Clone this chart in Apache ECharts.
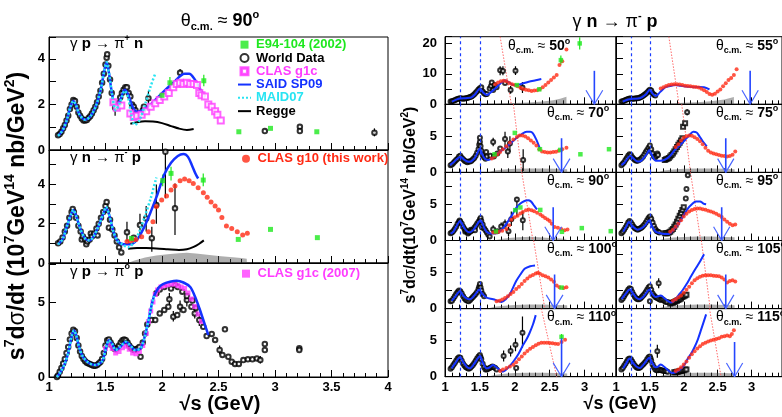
<!DOCTYPE html>
<html>
<head>
<meta charset="utf-8">
<script src="https://cdn.jsdelivr.net/npm/echarts@6/dist/echarts.min.js"></script>
<style>
html, body { margin: 0; background: #fff; }
#chart { width: 782px; height: 417px; }
</style>
</head>
<body>
<div id="chart"></div>
<script>
// ---------- left column, theta ~ 90 deg ----------
// gamma p -> pi+ n
const worldTop = [[1.08,0.65],[1.095,0.7],[1.11,0.8],[1.125,0.95],[1.14,1.1],[1.155,1.3],[1.17,1.5],[1.185,1.8],[1.20,2.0],[1.215,2.2],[1.23,2.15],[1.245,1.9],[1.26,1.65],[1.275,1.5],[1.29,1.38],[1.305,1.3],[1.32,1.3],[1.335,1.32],[1.35,1.4],[1.365,1.48],[1.38,1.6],[1.395,1.75],[1.41,1.9],[1.425,2.1],[1.44,2.35],[1.455,2.6],[1.47,2.95],[1.485,3.35],[1.50,3.75],[1.51,4.05],[1.515,4.2],[1.525,3.7],[1.54,3.1],[1.555,2.5],[1.57,2.1],[1.585,1.85],[1.60,1.9],[1.615,2.05],[1.63,2.3],[1.645,2.5],[1.66,2.65],[1.675,2.75],[1.69,2.75],[1.705,2.5],[1.72,2.35],[1.735,2.0],[1.75,1.9],[1.765,1.75],[1.78,1.53],[1.80,1.6],[1.83,1.75],[1.84,1.9],[1.88,2.27],[2.16,3.39],[2.91,0.83],[3.22,1.02],[3.22,0.83],[3.88,0.76]];
const worldTopErr = [[1.585,1.5,2.2],[1.88,1.95,2.6],[2.16,3.25,3.55],[3.88,0.6,0.95]];
const g1cTop = [[1.57,2.1],[1.60,1.85],[1.64,1.95],[1.72,1.6],[1.75,1.45],[1.78,1.5],[1.82,1.55],[1.86,1.7],[1.90,1.9],[1.94,2.05],[1.98,2.2],[2.02,2.35],[2.06,2.5],[2.10,2.75],[2.13,2.9],[2.16,2.95],[2.19,2.9],[2.22,2.95],[2.25,2.9],[2.28,2.9],[2.31,2.85],[2.33,2.5],[2.35,2.4],[2.38,2.35],[2.41,2.0],[2.44,1.9],[2.47,1.7],[2.49,1.55],[2.52,1.3]];
const e94Top = [[2.0,2.4],[2.07,2.95],[2.37,3.04],[2.68,0.80],[2.96,0.95],[3.37,0.80]];
const e94TopErr = [[2.07,2.7,3.2],[2.37,2.8,3.3]];
const saidTop = [[1.08,0.62],[1.10,0.72],[1.13,0.95],[1.16,1.35],[1.19,1.9],[1.215,2.15],[1.24,1.95],[1.27,1.55],[1.32,1.33],[1.37,1.5],[1.42,2.0],[1.46,2.7],[1.49,3.5],[1.51,3.85],[1.53,3.4],[1.56,2.4],[1.59,1.9],[1.63,2.2],[1.67,2.65],[1.70,2.45],[1.74,1.9],[1.78,1.68],[1.83,1.75],[1.90,2.0],[2.0,2.5],[2.1,2.95],[2.2,3.35],[2.24,3.35],[2.29,3.1],[2.34,2.65],[2.38,2.34]];
const maidTop = [[1.08,0.62],[1.10,0.72],[1.13,0.95],[1.16,1.35],[1.19,1.9],[1.215,2.15],[1.24,1.95],[1.27,1.55],[1.32,1.33],[1.37,1.5],[1.42,2.0],[1.46,2.7],[1.49,3.5],[1.51,3.85],[1.53,3.4],[1.56,2.4],[1.59,1.75],[1.63,2.1],[1.67,2.6],[1.70,2.3],[1.73,1.5],[1.76,1.1],[1.80,1.3],[1.85,2.0],[1.90,2.8],[1.94,3.35]];
const reggeTop = [[1.72,1.15],[1.78,1.22],[1.85,1.26],[1.92,1.25],[2.0,1.18],[2.08,1.05],[2.15,0.94],[2.22,0.88],[2.28,0.92]];

// gamma n -> pi- p (also the 90 deg panel on the right)
const worldMid = [[1.08,1.0],[1.10,1.1],[1.12,1.3],[1.14,1.6],[1.16,1.9],[1.18,2.3],[1.20,2.6],[1.21,2.75],[1.22,2.6],[1.24,2.3],[1.26,1.9],[1.28,1.6],[1.29,1.2],[1.30,1.35],[1.32,1.2],[1.33,0.95],[1.34,1.1],[1.36,1.2],[1.37,1.5],[1.38,1.35],[1.40,1.5],[1.42,1.75],[1.43,1.4],[1.44,2.0],[1.46,2.3],[1.48,2.6],[1.50,2.9],[1.51,3.1],[1.52,2.7],[1.53,1.8],[1.54,2.2],[1.56,1.7],[1.58,1.4],[1.60,1.1],[1.62,0.8],[1.64,0.54],[1.69,1.56],[1.75,1.29],[1.805,1.93],[1.86,2.27],[1.91,1.26],[1.95,2.95],[2.03,5.66],[2.115,2.78]];
const worldMidErr = [[1.69,1.1,2.1],[1.805,1.3,2.5],[1.86,1.6,2.9],[1.91,0.57,1.85],[1.95,2.0,4.0],[2.03,3.3,6.0],[2.115,1.42,4.05]];
const g10Mid = [[1.69,1.1],[1.72,1.12],[1.746,1.17],[1.77,1.2],[1.82,1.34],[1.88,1.59],[1.92,2.1],[1.95,2.87],[1.997,3.2],[2.04,3.41],[2.08,3.71],[2.115,3.92],[2.16,4.19],[2.20,4.27],[2.24,4.19],[2.277,4.05],[2.32,3.83],[2.366,3.58],[2.40,3.34],[2.434,3.1],[2.47,2.9],[2.50,2.7],[2.53,2.32],[2.57,1.88],[2.617,1.76],[2.666,1.59],[2.714,1.42],[2.755,1.51]];
const e94Mid = [[1.73,1.25],[2.006,4.19],[2.08,4.56],[2.365,4.22],[2.675,1.2],[2.96,1.71],[3.375,1.29]];
const e94MidErr = [[2.006,3.9,4.5],[2.08,4.2,4.9],[2.365,3.9,4.55]];
const saidMid = [[1.08,0.95],[1.12,1.2],[1.16,1.9],[1.20,2.55],[1.215,2.7],[1.24,2.4],[1.28,1.7],[1.32,1.25],[1.36,1.15],[1.40,1.4],[1.44,1.9],[1.48,2.5],[1.505,2.8],[1.53,2.5],[1.57,1.6],[1.61,1.1],[1.66,0.95],[1.72,0.95],[1.78,1.2],[1.84,1.8],[1.90,2.6],[1.96,3.5],[2.02,4.5],[2.08,5.1],[2.14,5.45],[2.19,5.55],[2.23,5.4],[2.27,4.9],[2.30,4.5],[2.32,4.3]];
const maidMid = [[1.08,0.95],[1.12,1.2],[1.16,1.9],[1.20,2.55],[1.215,2.7],[1.24,2.4],[1.28,1.7],[1.32,1.25],[1.36,1.15],[1.40,1.4],[1.44,1.9],[1.48,2.5],[1.505,2.85],[1.53,2.5],[1.57,1.6],[1.61,1.1],[1.65,0.95],[1.70,0.8],[1.75,1.05],[1.80,1.6],[1.85,2.4],[1.90,3.3],[1.95,4.35]];
const reggeMid = [[1.70,0.73],[1.78,0.76],[1.86,0.76],[1.95,0.74],[2.05,0.7],[2.15,0.66],[2.22,0.7],[2.28,0.82],[2.33,0.98],[2.37,1.15]];
const bandMid = [[1.70,0],[1.75,0.12],[1.85,0.28],[1.95,0.38],[2.05,0.45],[2.15,0.5],[2.22,0.52],[2.30,0.48],[2.40,0.42],[2.50,0.36],[2.60,0.3],[2.70,0.25],[2.75,0.22],[2.751,0]];

// gamma p -> pi0 p
const worldBot = [[1.07,0],[1.08,0.1],[1.095,0.35],[1.11,0.6],[1.125,0.9],[1.14,1.2],[1.155,1.6],[1.17,2.0],[1.185,2.5],[1.20,2.9],[1.215,3.15],[1.23,3.05],[1.245,2.6],[1.26,2.1],[1.275,1.7],[1.29,1.4],[1.305,1.2],[1.32,1.05],[1.335,0.95],[1.35,0.9],[1.365,0.85],[1.38,0.8],[1.395,0.75],[1.41,0.75],[1.425,0.8],[1.44,0.9],[1.455,1.0],[1.47,1.2],[1.485,1.6],[1.50,2.1],[1.515,2.45],[1.53,2.5],[1.545,2.3],[1.56,2.1],[1.575,1.9],[1.59,1.85],[1.605,1.95],[1.62,2.1],[1.635,2.3],[1.65,2.45],[1.665,2.5],[1.68,2.45],[1.695,2.3],[1.71,2.1],[1.725,1.95],[1.74,1.85],[1.755,1.8],[1.77,1.85],[1.785,1.9],[1.80,2.0],[1.81,1.35],[1.83,2.3],[1.85,2.9],[1.87,3.5],[1.91,3.8],[1.94,3.8],[1.95,5.58],[1.98,4.24],[1.98,5.84],[2.02,4.47],[2.02,6.0],[2.056,4.69],[2.065,5.18],[2.08,5.9],[2.10,4.02],[2.115,6.13],[2.135,4.13],[2.14,6.0],[2.16,4.69],[2.18,5.69],[2.19,4.47],[2.22,5.13],[2.22,5.4],[2.26,4.69],[2.27,5.1],[2.29,4.24],[2.30,4.6],[2.33,3.8],[2.365,3.35],[2.395,2.73],[2.44,2.87],[2.47,2.47],[2.51,1.8],[2.535,1.47],[2.557,3.18],[2.587,1.35],[2.617,1.02],[2.646,0.87],[2.68,0.87],[2.72,1.13],[2.76,1.18],[2.80,1.18],[2.84,1.24],[2.87,1.13],[2.91,1.8],[2.91,2.2],[3.215,1.91],[3.215,1.8]];
const worldBotErr = [[2.065,4.8,5.6],[2.10,3.7,4.4],[2.16,4.3,5.1],[2.22,4.7,5.6],[2.29,3.9,4.6],[2.33,3.4,4.2],[2.51,1.5,2.1],[2.87,0.9,1.4]];
const g1c07Bot = [[1.50,1.9],[1.53,2.2],[1.56,1.9],[1.59,1.6],[1.62,1.7],[1.65,1.95],[1.68,2.05],[1.71,1.85],[1.74,1.6],[1.77,1.55],[1.80,1.7],[1.83,2.1],[1.86,2.9],[1.88,3.7],[1.90,4.4],[1.92,5.0],[1.94,5.5],[1.96,5.8],[1.99,6.0],[2.02,6.1],[2.05,6.15],[2.08,6.2],[2.11,6.2],[2.14,6.1],[2.17,6.0],[2.20,5.9],[2.23,5.6],[2.26,5.2],[2.29,4.7],[2.32,4.2],[2.35,3.7]];
const saidBot = [[1.07,0],[1.10,0.3],[1.14,0.9],[1.17,1.6],[1.20,2.7],[1.22,3.1],[1.24,2.8],[1.27,1.9],[1.30,1.35],[1.35,0.95],[1.41,0.8],[1.47,1.05],[1.50,1.8],[1.53,2.45],[1.56,2.2],[1.59,1.8],[1.63,2.0],[1.68,2.35],[1.72,2.1],[1.76,1.8],[1.81,1.9],[1.84,2.5],[1.87,3.4],[1.90,4.5],[1.93,5.4],[1.97,5.95],[2.01,6.2],[2.07,6.35],[2.13,6.42],[2.19,6.3],[2.25,6.0],[2.29,5.4],[2.33,4.6],[2.37,3.7],[2.41,2.8]];
const maidBot = [[1.07,0],[1.10,0.3],[1.14,0.9],[1.17,1.6],[1.20,2.7],[1.22,3.1],[1.24,2.8],[1.27,1.9],[1.30,1.35],[1.35,0.95],[1.41,0.8],[1.47,1.05],[1.50,1.8],[1.53,2.45],[1.56,2.2],[1.59,1.8],[1.63,2.0],[1.68,2.35],[1.72,2.1],[1.76,1.8],[1.81,1.9],[1.84,2.5],[1.87,3.4],[1.90,4.5],[1.93,5.4]];

// ---------- right column, gamma n -> pi- p at several angles ----------
const angles = ['50', '55', '70', '75', '90', '95', '100', '105', '110', '115'];
const deltaLines = [1.22, 1.50];
const arrowX = [3.14, 2.98, 2.67, 2.62, 2.55, 2.56, 2.57, 2.62, 2.67, 2.75];
const arrowTop = [11, 11, 4.7, 4.7, 4.6, 4.6, 4.7, 4.7, 5.3, 4.8];
const cutTop = [1.79, 1.78, 1.98, 1.97, 2.10, 2.10, 2.27, 2.26, 2.38, 2.38];
const cutBot = [1.95, 1.93, 2.10, 2.10, 2.26, 2.25, 2.43, 2.39, 2.60, 2.55];

const w50 = [[1.08,0.9],[1.10,1.0],[1.12,1.2],[1.14,1.3],[1.16,1.6],[1.18,1.7],[1.20,1.9],[1.22,2.0],[1.24,1.9],[1.26,1.8],[1.28,1.9],[1.30,2.0],[1.32,2.1],[1.34,2.2],[1.36,2.4],[1.38,2.6],[1.40,2.9],[1.42,3.3],[1.44,3.8],[1.46,4.3],[1.48,4.9],[1.50,5.3],[1.51,4.8],[1.52,5.6],[1.54,4.2],[1.56,3.6],[1.58,3.3],[1.60,3.4],[1.64,5.2],[1.66,6.0],[1.67,7.2],[1.69,4.7],[1.71,6.3],[1.74,5.6],[1.79,11.2],[1.83,10.9],[1.86,7.0],[1.94,4.7],[2.01,11.0],[2.11,5.5]];
const e50 = [[1.79,9.5,12.5],[1.83,9.5,12.5],[2.01,9.6,12.5],[1.94,3.5,6.0],[2.11,3.7,7.3]];
const red50 = [[1.72,6.6],[1.76,7.2],[1.80,7.6],[1.84,7.7],[1.88,7.6],[1.92,7.0],[1.96,6.6],[2.00,6.3],[2.04,5.9],[2.08,5.4],[2.12,5.0],[2.16,4.8],[2.20,4.6],[2.24,4.4],[2.28,4.5],[2.32,4.6],[2.36,5.0],[2.40,5.6],[2.44,6.3],[2.48,7.2],[2.52,8.0],[2.56,8.8],[2.60,9.6],[2.64,12.9],[2.68,14.1],[2.74,18.0]];
const green50 = [[2.03,6.3],[2.35,4.9],[2.66,14.5],[2.93,20.0]];
const ge50 = [[2.66,13,16],[2.93,18,22]];
const said50 = [[1.10,0.85],[1.17,1.6],[1.22,1.9],[1.30,2.0],[1.38,2.3],[1.44,3.5],[1.50,5.2],[1.55,3.8],[1.60,3.05],[1.66,4.0],[1.74,5.6],[1.80,7.0],[1.86,7.9],[1.92,7.2],[1.98,6.3],[2.05,6.4],[2.12,6.9],[2.20,7.4],[2.30,7.9],[2.38,8.3]];
const band50 = [[1.70,0],[1.80,0.3],[2.0,0.45],[2.2,0.6],[2.4,0.9],[2.55,1.3],[2.65,1.8],[2.74,2.5],[2.741,0]];

const w55 = [[1.08,0.9],[1.10,1.0],[1.12,1.2],[1.14,1.4],[1.16,1.6],[1.18,1.7],[1.20,1.9],[1.22,1.9],[1.24,1.8],[1.26,1.8],[1.28,1.9],[1.30,2.0],[1.32,2.0],[1.34,2.1],[1.36,2.3],[1.38,2.5],[1.40,2.8],[1.42,3.1],[1.44,3.5],[1.46,3.9],[1.48,4.4],[1.50,4.8],[1.51,4.2],[1.52,4.5],[1.54,3.6],[1.56,3.1],[1.58,2.9]];
const red55 = [[1.66,5.2],[1.70,5.6],[1.74,6.0],[1.78,6.3],[1.82,6.5],[1.86,6.6],[1.90,6.6],[1.94,6.5],[1.98,6.3],[2.02,6.1],[2.06,6.0],[2.10,5.9],[2.14,5.8],[2.18,5.7],[2.22,5.5],[2.26,5.1],[2.30,4.6],[2.34,4.0],[2.38,3.4],[2.42,3.1],[2.46,3.5],[2.50,4.2],[2.54,4.9],[2.58,5.9],[2.62,6.9],[2.66,8.0],[2.70,8.6],[2.74,9.6],[2.78,11.5]];
const said55 = [[1.10,0.85],[1.18,1.6],[1.25,1.8],[1.35,2.0],[1.44,3.2],[1.50,4.9],[1.54,3.5],[1.59,2.7],[1.65,4.0],[1.73,5.6],[1.80,6.0],[1.87,6.3],[1.95,6.1],[2.06,5.8],[2.15,5.6],[2.22,5.7],[2.30,5.6],[2.38,4.9]];
const band55 = [[1.60,0],[1.80,0.3],[2.0,0.5],[2.2,0.7],[2.4,1.0],[2.6,1.6],[2.74,2.4],[2.741,0]];

const w70 = [[1.08,1.0],[1.10,1.1],[1.12,1.3],[1.14,1.5],[1.16,1.7],[1.18,1.9],[1.20,2.2],[1.22,2.3],[1.24,2.0],[1.26,1.8],[1.28,1.6],[1.30,1.5],[1.32,1.4],[1.34,1.5],[1.36,1.5],[1.38,1.6],[1.40,1.8],[1.42,2.0],[1.44,2.3],[1.46,2.7],[1.48,3.2],[1.49,3.8],[1.50,4.2],[1.50,4.8],[1.51,3.6],[1.52,3.0],[1.54,2.4],[1.56,2.1],[1.58,1.9],[1.59,2.8],[1.60,2.2],[1.65,2.3],[1.69,4.2],[1.70,2.2],[1.75,2.6],[1.79,3.3],[1.86,4.6],[1.90,2.9],[1.93,4.0],[2.12,1.7]];
const e70 = [[1.69,3.6,4.8],[1.86,3.5,5.6],[1.93,2.8,5.0],[1.90,2.0,3.8],[2.12,0.2,3.2]];
const red70 = [[1.67,1.93],[1.71,2.2],[1.75,2.5],[1.79,2.8],[1.83,3.2],[1.88,3.6],[1.93,4.1],[1.98,4.55],[2.03,4.9],[2.07,5.1],[2.11,5.1],[2.15,4.95],[2.19,4.7],[2.23,4.4],[2.27,4.1],[2.31,3.7],[2.35,3.2],[2.39,2.9],[2.43,2.8],[2.47,2.75],[2.51,2.75],[2.55,2.8],[2.59,2.85],[2.63,3.0],[2.68,3.2],[2.74,3.4]];
const green70 = [[1.71,2.5],[2.0,5.45],[2.36,3.2],[2.65,3.1],[2.94,2.5],[3.35,3.2]];
const said70 = [[1.07,1.0],[1.12,1.35],[1.17,1.85],[1.225,2.15],[1.27,1.8],[1.32,1.5],[1.36,1.46],[1.40,1.7],[1.44,2.2],[1.47,2.8],[1.50,3.3],[1.53,2.6],[1.57,1.9],[1.62,1.7],[1.68,2.0],[1.74,2.5],[1.81,3.0],[1.88,3.5],[1.95,4.1],[2.02,4.7],[2.10,5.3],[2.17,5.6],[2.22,5.6],[2.26,5.4],[2.31,4.5],[2.36,3.3]];

const w75 = [[1.08,1.0],[1.10,1.2],[1.12,1.4],[1.14,1.7],[1.16,2.0],[1.18,2.3],[1.20,2.5],[1.22,2.4],[1.24,2.1],[1.26,1.9],[1.28,1.7],[1.30,1.6],[1.32,1.6],[1.34,1.7],[1.36,1.8],[1.38,2.0],[1.40,2.2],[1.42,2.5],[1.44,2.8],[1.46,3.1],[1.48,3.4],[1.50,3.7],[1.50,3.0],[1.52,3.2],[1.54,2.6],[1.56,2.2],[1.58,2.1],[1.60,2.3],[1.61,2.6],[1.62,2.4],[2.05,8.3]];
const sq75 = [[1.72,1.7],[1.74,1.8],[1.76,1.9],[1.78,2.0],[1.80,2.2],[1.82,2.4],[1.84,2.6],[1.86,2.9],[1.88,3.2],[1.90,3.5],[1.92,3.8],[1.94,4.1],[1.96,4.4],[1.98,4.7],[1.99,6.3],[2.02,6.8]];
const e75 = [[2.05,7.9,8.7]];
const red75 = [[1.88,3.5],[1.92,3.9],[1.96,4.4],[2.00,4.8],[2.04,5.0],[2.08,5.1],[2.12,5.05],[2.16,4.85],[2.20,4.6],[2.24,4.3],[2.28,3.9],[2.32,3.4],[2.36,3.0],[2.40,2.75],[2.44,2.6],[2.48,2.5],[2.52,2.4],[2.56,2.3],[2.60,2.25],[2.64,2.2],[2.68,2.25],[2.72,2.45],[2.76,2.9]];
const said75 = [[1.08,1.0],[1.12,1.3],[1.16,1.8],[1.21,2.3],[1.26,1.9],[1.32,1.5],[1.37,1.6],[1.42,2.1],[1.46,2.6],[1.49,3.1],[1.52,2.6],[1.585,1.6],[1.65,1.6],[1.73,1.8],[1.80,2.3],[1.87,3.1],[1.95,3.8],[2.02,4.5],[2.08,5.1],[2.14,5.6],[2.19,5.5],[2.23,5.0],[2.28,4.3],[2.34,3.6]];

const w95 = [[1.08,1.0],[1.10,1.2],[1.12,1.5],[1.14,1.8],[1.16,2.1],[1.18,2.5],[1.20,2.7],[1.22,2.5],[1.24,2.2],[1.26,1.9],[1.28,1.7],[1.30,1.6],[1.32,1.5],[1.34,1.6],[1.36,1.7],[1.38,1.8],[1.40,2.0],[1.42,2.2],[1.44,2.5],[1.46,2.8],[1.48,3.1],[1.50,3.3],[1.51,2.8],[1.52,3.0],[1.54,2.5],[1.56,2.0],[1.58,1.6],[1.60,1.3],[1.62,1.2],[1.64,1.1],[2.03,5.8],[2.04,7.1],[2.06,9.0]];
const sq95 = [[1.72,1.0],[1.74,1.0],[1.76,1.0],[1.78,1.1],[1.80,1.2],[1.82,1.4],[1.84,1.6],[1.86,1.9],[1.88,2.2],[1.90,2.6],[1.92,3.0],[1.94,3.4],[1.96,3.8],[1.98,4.2],[2.00,4.6]];
const red95 = [[1.80,1.2],[1.84,1.5],[1.88,1.9],[1.92,2.3],[1.96,2.8],[2.00,3.3],[2.04,3.7],[2.08,4.0],[2.12,4.2],[2.16,4.35],[2.20,4.4],[2.24,4.4],[2.28,4.3],[2.32,4.25],[2.36,4.1],[2.40,4.0],[2.44,3.85],[2.48,3.7],[2.52,3.5],[2.56,3.25],[2.60,2.9],[2.64,2.6],[2.68,2.3],[2.72,2.1],[2.76,2.2]];
const said95 = [[1.105,1.2],[1.15,1.9],[1.19,2.55],[1.24,2.0],[1.32,1.5],[1.38,1.7],[1.44,2.2],[1.49,2.8],[1.53,2.0],[1.585,1.2],[1.65,1.0],[1.72,0.9],[1.78,0.9],[1.85,1.5],[1.92,2.3],[1.99,3.3],[2.06,4.4],[2.12,5.0],[2.18,5.4],[2.24,5.4],[2.29,5.1],[2.33,5.0]];

const w100 = [[1.08,1.0],[1.10,1.1],[1.12,1.4],[1.14,1.7],[1.16,2.0],[1.18,2.3],[1.20,2.5],[1.22,2.4],[1.24,2.1],[1.26,1.7],[1.28,1.4],[1.30,1.2],[1.32,1.1],[1.34,1.0],[1.36,1.2],[1.38,1.4],[1.40,1.6],[1.42,1.8],[1.44,2.0],[1.46,2.3],[1.48,2.7],[1.49,3.0],[1.50,3.4],[1.51,2.9],[1.52,2.5],[1.54,2.0],[1.56,1.7]];
const red100 = [[1.74,1.0],[1.78,1.1],[1.82,1.25],[1.86,1.45],[1.90,1.7],[1.94,2.0],[1.98,2.3],[2.02,2.7],[2.06,3.0],[2.10,3.4],[2.14,3.8],[2.18,4.15],[2.22,4.45],[2.26,4.65],[2.30,4.85],[2.33,4.95],[2.36,4.8],[2.40,4.6],[2.44,4.45],[2.48,4.3],[2.52,4.0],[2.56,3.7],[2.60,3.2],[2.64,2.95],[2.70,2.85],[2.74,2.95]];
const green100 = [[2.67,2.9]];
const said100 = [[1.095,1.05],[1.15,1.7],[1.214,2.4],[1.27,1.7],[1.32,1.35],[1.36,1.3],[1.42,1.8],[1.46,2.3],[1.49,2.65],[1.53,2.1],[1.595,1.5],[1.69,1.3],[1.75,1.1],[1.81,0.9],[1.87,1.3],[1.93,2.0],[2.02,3.8],[2.08,4.7],[2.14,5.5],[2.22,5.85],[2.29,5.96]];

const w105 = [[1.08,1.2],[1.10,1.4],[1.12,1.7],[1.14,2.0],[1.16,2.3],[1.18,2.6],[1.20,2.8],[1.22,2.7],[1.24,2.3],[1.26,1.9],[1.28,1.6],[1.30,1.4],[1.32,1.3],[1.34,1.3],[1.36,1.4],[1.38,1.6],[1.40,1.8],[1.42,2.0],[1.44,2.3],[1.46,2.6],[1.48,2.9],[1.50,3.1],[1.50,1.0],[1.52,2.6],[1.54,2.1],[1.56,1.8],[1.58,1.6],[1.60,1.5],[1.62,1.4],[1.63,3.5],[1.64,1.3],[1.66,1.2],[1.68,1.3],[1.70,1.2],[1.72,1.0],[1.74,0.9],[1.76,0.9]];
const sq105 = [[1.80,0.7],[1.82,0.8],[1.84,0.8],[1.86,0.9],[1.88,1.0],[1.90,1.1],[1.92,1.2],[1.94,1.3],[1.96,1.4],[1.98,1.6],[2.00,1.7],[2.02,1.8],[2.04,1.9]];
const e105 = [[1.63,2.8,4.2]];
const red105 = [[1.84,1.1],[1.88,1.3],[1.92,1.55],[1.96,1.8],[2.00,2.2],[2.04,2.6],[2.08,3.0],[2.12,3.5],[2.16,3.9],[2.20,4.2],[2.24,4.4],[2.28,4.55],[2.32,4.6],[2.36,4.6],[2.40,4.6],[2.44,4.55],[2.48,4.5],[2.52,4.45],[2.56,4.3],[2.60,4.0],[2.64,3.6],[2.68,3.8],[2.72,3.9],[2.76,3.75]];
const said105 = [[1.08,1.3],[1.14,2.0],[1.20,2.65],[1.26,2.0],[1.30,1.5],[1.35,1.3],[1.40,1.6],[1.45,2.2],[1.49,2.65],[1.53,2.1],[1.585,1.6],[1.66,1.8],[1.73,1.3],[1.81,0.85],[1.87,1.2],[1.92,1.8],[1.98,2.5],[2.04,3.35],[2.11,4.5],[2.18,5.6],[2.24,6.5],[2.30,7.5]];

const w110 = [[1.08,1.1],[1.10,1.3],[1.12,1.6],[1.14,1.9],[1.16,2.2],[1.18,2.5],[1.20,2.7],[1.22,2.6],[1.24,2.2],[1.26,1.8],[1.28,1.5],[1.30,1.3],[1.32,1.2],[1.34,1.1],[1.36,1.2],[1.38,1.4],[1.40,1.6],[1.42,1.9],[1.44,2.2],[1.46,2.5],[1.48,2.8],[1.50,3.0],[1.51,2.7],[1.52,2.4],[1.54,1.8],[1.56,1.3],[1.58,1.0],[1.60,1.0],[1.62,1.1],[1.64,1.2],[1.66,1.3],[1.68,1.4],[1.70,1.3],[1.72,1.2],[1.74,1.0],[1.84,2.85],[1.94,3.55],[2.01,4.4],[2.11,6.05],[2.02,1.2]];
const e110 = [[1.84,2.1,3.6],[1.94,2.8,4.3],[2.01,3.5,5.3],[2.11,4.0,8.3]];
const red110 = [[1.79,0.8],[1.83,1.0],[1.88,1.2],[1.93,1.4],[1.98,1.65],[2.02,2.0],[2.06,2.4],[2.10,2.8],[2.14,3.2],[2.18,3.55],[2.22,3.85],[2.26,4.1],[2.30,4.35],[2.34,4.55],[2.38,4.7],[2.42,4.7],[2.46,4.7],[2.50,4.65],[2.54,4.6],[2.58,4.55],[2.62,4.5],[2.67,4.8],[2.72,5.1]];
const green110 = [[2.67,5.5]];
const ge110 = [[2.67,5.1,5.9]];
const said110 = [[1.095,1.15],[1.15,1.9],[1.214,2.67],[1.27,1.9],[1.32,1.3],[1.36,1.15],[1.42,1.8],[1.46,2.4],[1.50,2.85],[1.54,2.0],[1.595,1.15],[1.64,1.3],[1.69,1.6],[1.75,1.2],[1.83,0.7],[1.90,1.2],[1.98,2.1],[2.05,3.1],[2.12,4.4],[2.17,5.2],[2.21,6.0],[2.26,7.2],[2.30,8.5]];

const w115 = [[1.08,1.0],[1.10,1.2],[1.12,1.5],[1.14,1.8],[1.16,2.1],[1.18,2.4],[1.20,2.5],[1.22,2.4],[1.24,2.1],[1.26,1.8],[1.28,1.5],[1.30,1.3],[1.32,1.2],[1.34,1.2],[1.36,1.3],[1.38,1.5],[1.40,1.7],[1.42,1.9],[1.44,2.1],[1.46,2.4],[1.48,2.7],[1.50,2.8],[1.51,2.5],[1.52,2.2],[1.54,1.7],[1.56,1.3],[1.58,1.0],[1.60,0.9],[1.61,3.5],[1.62,0.9],[1.64,1.0],[1.66,0.9],[1.68,0.9],[1.70,0.8],[1.72,0.8],[1.74,0.8],[1.76,0.7]];
const sq115 = [[1.86,0.6],[1.88,0.6],[1.90,0.7],[1.92,0.7],[1.94,0.8],[1.96,0.8],[1.98,0.9],[2.00,0.9],[2.02,1.0],[2.04,1.0]];
const e115 = [[1.61,2.6,4.4]];
const red115 = [[1.88,0.8],[1.92,1.0],[1.96,1.3],[2.00,1.7],[2.04,2.1],[2.08,2.6],[2.12,3.1],[2.16,3.5],[2.20,3.9],[2.24,4.2],[2.28,4.5],[2.32,4.7],[2.36,4.85],[2.40,5.0],[2.44,5.1],[2.48,5.2],[2.52,5.3],[2.56,5.5],[2.60,5.6],[2.64,5.7],[2.68,5.6],[2.71,5.9],[2.74,6.4]];
const said115 = [[1.105,1.15],[1.15,1.8],[1.20,2.5],[1.26,1.8],[1.30,1.4],[1.35,1.2],[1.40,1.6],[1.45,2.2],[1.49,2.6],[1.53,2.0],[1.585,1.3],[1.62,1.4],[1.66,1.7],[1.72,1.3],[1.78,0.8],[1.825,0.5],[1.90,0.7],[1.97,1.2],[2.02,1.8],[2.06,2.5],[2.11,3.2],[2.16,4.1],[2.21,5.2],[2.26,6.6],[2.33,8.6]];

const bandR = [[1.62,0],[1.70,0.25],[1.85,0.4],[2.0,0.5],[2.2,0.55],[2.4,0.55],[2.6,0.5],[2.75,0.45],[2.751,0]];

const rightPanels = [
  { world: w50, sq: null, err: e50, red: red50, green: green50, gerr: ge50, said: said50, band: band50 },
  { world: w55, sq: null, err: null, red: red55, green: null, gerr: null, said: said55, band: band55 },
  { world: w70, sq: null, err: e70, red: red70, green: green70, gerr: null, said: said70, band: bandR },
  { world: w75, sq: sq75, err: e75, red: red75, green: null, gerr: null, said: said75, band: bandR },
  { world: worldMid, sq: null, err: worldMidErr, red: g10Mid, green: e94Mid, gerr: null, said: saidMid, band: bandMid },
  { world: w95, sq: sq95, err: null, red: red95, green: null, gerr: null, said: said95, band: bandR },
  { world: w100, sq: null, err: null, red: red100, green: green100, gerr: null, said: said100, band: bandR },
  { world: w105, sq: sq105, err: e105, red: red105, green: null, gerr: null, said: said105, band: bandR },
  { world: w110, sq: null, err: e110, red: red110, green: green110, gerr: ge110, said: said110, band: bandR },
  { world: w115, sq: sq115, err: e115, red: red115, green: null, gerr: null, said: said115, band: bandR }
];

// ---------- build ----------
const FONT = '"Liberation Sans", Arial, Helvetica, sans-serif';
const C = { red: '#ff2a14', blue: '#1432ff', cyan: '#28e4f2', green: '#1ee81e', mag: '#ff3cff', band: 'rgba(70,70,70,0.62)' };

const grids = [], xAxes = [], yAxes = [], series = [];

function tickLabel(step) {
  return function(v) {
    const r = v / step;
    return Math.abs(r - Math.round(r)) < 1e-6 ? String(+v.toFixed(2)) : '';
  };
}

function addPanel(left, top, width, height, xmax, ymax, yStep, yLabStep, showX, showY, yMargin) {
  const i = grids.length;
  grids.push({ left: left, top: top, width: width, height: height, show: true, borderColor: '#000', borderWidth: 1, backgroundColor: 'transparent' });
  xAxes.push({
    type: 'value', gridIndex: i, min: 1, max: xmax, interval: 0.5,
    axisLine: { show: true, onZero: false, lineStyle: { color: '#000', width: 1 } },
    axisTick: { show: true, inside: true, length: 7, lineStyle: { color: '#000' } },
    minorTick: { show: true, splitNumber: 5, length: 4, lineStyle: { color: '#000' } },
    splitLine: { show: false },
    axisLabel: { show: showX, formatter: tickLabel(0.5), showMaxLabel: xmax === 4, color: '#000', fontFamily: FONT, fontWeight: 'bold', fontSize: 13, margin: 4 }
  });
  yAxes.push({
    type: 'value', gridIndex: i, min: 0, max: ymax, interval: yStep,
    axisLine: { show: true, onZero: false, lineStyle: { color: '#000', width: 1 } },
    axisTick: { show: true, inside: true, length: 7, lineStyle: { color: '#000' } },
    splitLine: { show: false },
    axisLabel: { show: showY, formatter: tickLabel(yLabStep), color: '#000', fontFamily: FONT, fontWeight: 'bold', fontSize: 13, margin: yMargin }
  });
  return i;
}

function pts(i, name, data, symbol, size, color, z, bw) {
  if (!data) return;
  series.push({ type: 'scatter', name: name, xAxisIndex: i, yAxisIndex: i, data: data, symbol: symbol, symbolSize: size,
    itemStyle: { color: color, borderColor: color, borderWidth: bw === undefined ? 1 : bw }, z: z, clip: true, silent: true });
}
function curve(i, name, data, color, type, width, z) {
  series.push({ type: 'line', name: name, xAxisIndex: i, yAxisIndex: i, data: data, symbol: 'none', smooth: 0.3,
    lineStyle: { color: color, type: type, width: width }, itemStyle: { color: color }, z: z, clip: true, silent: true });
}
function seg(i, data, color, type, width, z) {
  series.push({ type: 'line', xAxisIndex: i, yAxisIndex: i, data: data, symbol: 'none',
    lineStyle: { color: color, type: type, width: width }, z: z, clip: true, silent: true });
}
function band(i, data, marks) {
  const s = { type: 'line', xAxisIndex: i, yAxisIndex: i, data: data, symbol: 'none', lineStyle: { width: 0 },
    areaStyle: { color: C.band, origin: 0 }, z: 1, clip: true, silent: true };
  if (marks) {
    s.markLine = { silent: true, symbol: 'none', animation: false, label: { show: false },
      lineStyle: { color: '#1a3cff', type: [3, 3], width: 1.2 }, data: marks.map(function(x) { return { xAxis: x }; }) };
  }
  series.push(s);
}
function errs(i, data, color) {
  if (!data) return;
  series.push({ type: 'custom', xAxisIndex: i, yAxisIndex: i, data: data, z: 2, clip: true, silent: true,
    renderItem: function(params, api) {
      const a = api.coord([api.value(0), api.value(1)]);
      const b = api.coord([api.value(0), api.value(2)]);
      return { type: 'line', shape: { x1: a[0], y1: a[1], x2: b[0], y2: b[1] }, style: { stroke: color, lineWidth: 1.2 } };
    } });
}

// left column
const L = 49, LW = 339;
const iTop = addPanel(L, 37, LW, 113, 4, 4.96, 1, 2, false, true, 4);
errs(iTop, worldTopErr, '#000');
errs(iTop, e94TopErr, C.green);
pts(iTop, 'E94-104 (2002)', e94Top, 'rect', 5, C.green, 7, 0);
pts(iTop, 'World Data', worldTop, 'emptyCircle', 4.5, '#000', 3);
pts(iTop, 'CLAS g1c', g1cTop, 'emptyRect', 6, C.mag, 5);
curve(iTop, 'SAID SP09', saidTop, C.blue, 'solid', 2.5, 4);
curve(iTop, 'MAID07', maidTop, C.cyan, [2, 2], 2.5, 6);
curve(iTop, 'Regge', reggeTop, '#000', 'solid', 2, 4);

const iMid = addPanel(L, 150, LW, 113, 4, 5.75, 1, 2, false, true, 4);
band(iMid, bandMid);
errs(iMid, worldMidErr, '#000');
errs(iMid, e94MidErr, C.green);
pts(iMid, 'World Data', worldMid, 'emptyCircle', 4.5, '#000', 3);
curve(iMid, 'SAID SP09', saidMid, C.blue, 'solid', 2.5, 4);
curve(iMid, 'MAID07', maidMid, C.cyan, [2, 2], 2.5, 6);
curve(iMid, 'Regge', reggeMid, '#000', 'solid', 2, 4);
pts(iMid, 'CLAS g10 (this work)', g10Mid, 'circle', 5, C.red, 6, 0);
pts(iMid, 'E94-104 (2002)', e94Mid, 'rect', 5, C.green, 7, 0);

const iBot = addPanel(L, 263, LW, 114, 4, 7.6, 2.5, 5, true, true, 4);
errs(iBot, worldBotErr, '#000');
pts(iBot, 'World Data', worldBot, 'emptyCircle', 4.5, '#000', 3);
pts(iBot, 'CLAS g1c (2007)', g1c07Bot, 'rect', 5, C.mag, 4, 0);
curve(iBot, 'SAID SP09', saidBot, C.blue, 'solid', 2.5, 5);
curve(iBot, 'MAID07', maidBot, C.cyan, [2, 2], 2.5, 6);

// right column
const rowTops = [36.7, 104.3, 172.4, 240.5, 308.6];
const rowH = [67.6, 68.1, 68.1, 68.1, 68.1];
const colLeft = [445, 616];
rightPanels.forEach(function(p, k) {
  const row = Math.floor(k / 2), col = k % 2;
  const ymax = row === 0 ? 22.2 : 9.4;
  const i = addPanel(colLeft[col], rowTops[row], 171, rowH[row], 3.45, ymax, row === 0 ? 5 : 2.5, row === 0 ? 10 : 5, row === 4, col === 0, 8);
  band(i, p.band, deltaLines);
  seg(i, [[cutTop[k], ymax], [cutBot[k], 0]], '#ff6a6a', [1.5, 1.5], 1, 2);
  errs(i, p.err, '#000');
  errs(i, p.gerr, C.green);
  pts(i, 'World Data', p.world, 'emptyCircle', 4, '#000', 3);
  pts(i, 'World Data (sq)', p.sq, 'emptyRect', 4, '#000', 3);
  curve(i, 'SAID SP09', p.said, C.blue, 'solid', 2, 4);
  pts(i, 'CLAS g10 (this work)', p.red, 'circle', 4, C.red, 5, 0);
  pts(i, 'E94-104 (2002)', p.green, 'rect', 4.5, C.green, 6, 0);
  const ax = arrowX[k], hw = 0.12, hh = row === 0 ? 4.6 : 1.9;
  seg(i, [[ax, arrowTop[k]], [ax, 0]], '#2446ff', 'solid', 1.6, 8);
  seg(i, [[ax - hw, hh], [ax, 0], [ax + hw, hh]], '#4a66ff', 'solid', 1.2, 8);
});

// ---------- texts ----------
function rich(size) {
  return {
    b: { fontFamily: FONT, fontWeight: 'bold', fontSize: size, color: '#000', lineHeight: Math.round(size * 1.3) },
    g: { fontFamily: FONT, fontWeight: 'normal', fontSize: size, color: '#000', lineHeight: Math.round(size * 1.3) },
    sup: { fontFamily: FONT, fontWeight: 'bold', fontSize: Math.round(size * 0.62), color: '#000', verticalAlign: 'top', lineHeight: Math.round(size * 0.62) },
    sub: { fontFamily: FONT, fontWeight: 'bold', fontSize: Math.round(size * 0.62), color: '#000', verticalAlign: 'bottom', lineHeight: Math.round(size * 0.62) }
  };
}
function txt(x, y, text, size, align, rot) {
  return { type: 'text', x: x, y: y, rotation: rot || 0, silent: true, z: 100,
    style: { text: text, rich: rich(size), align: align || 'left', verticalAlign: 'middle' } };
}
function theta(a) { return '{g|θ}{sub|c.m.}{g| ≈ }{b|' + a + '}{sup|o}'; }

const yTitleL = '{b|s}{sup|7}{b|d}{g|σ}{b|/dt (10}{sup|7}{b|GeV}{sup|14}{b| nb/GeV}{sup|2}{b|)}';
const yTitleR = '{b|s}{sup|7}{b|d}{g|σ}{b|/dt(10}{sup|7}{b|GeV}{sup|14}{b| nb/GeV}{sup|2}{b|)}';

const graphics = [
  txt(220, 21, theta('90'), 18, 'center'),
  txt(615, 22, '{g|γ}{b| n }{g|→ π}{sup|-}{b| p}', 18, 'center'),
  txt(70, 44, '{g|γ}{b| p }{g|→ π}{sup|+}{b| n}', 15),
  txt(70, 158, '{g|γ}{b| n }{g|→ π}{sup|-}{b| p}', 15),
  txt(70, 272, '{g|γ}{b| p }{g|→ π}{sup|o}{b| p}', 15),
  txt(18, 216, yTitleL, 23, 'center', Math.PI / 2),
  txt(411, 205, yTitleR, 16, 'center', Math.PI / 2),
  txt(220, 404, '{b|√s (GeV)}', 20, 'center'),
  txt(620, 404, '{b|√s (GeV)}', 18, 'center')
];
rightPanels.forEach(function(p, k) {
  const row = Math.floor(k / 2), col = k % 2;
  const x = col === 0 ? (row === 0 ? 508 : 547) : 716;
  graphics.push(txt(x, rowTops[row] + 9, theta(angles[k]), 14));
});

// legend icons: square, hollow square
const sqIcon = 'path://M0,0h10v10h-10z';
const hollowSqIcon = 'path://M0,0h10v10h-10zM2,2v6h6v-6z';
const noMark = { opacity: 0 };
const legendText = { fontFamily: FONT, fontWeight: 'bold', fontSize: 13, lineHeight: 13.3 };
const option = {
  animation: false,
  backgroundColor: '#fff',
  grid: grids,
  xAxis: xAxes,
  yAxis: yAxes,
  series: series,
  graphic: graphics,
  legend: [
    { left: 232, top: 33, orient: 'vertical', itemGap: 0, itemWidth: 13, itemHeight: 8, selectedMode: false, textStyle: legendText,
      data: [
        { name: 'E94-104 (2002)', icon: sqIcon, textStyle: { color: C.green } },
        { name: 'World Data', textStyle: { color: '#000' } },
        { name: 'CLAS g1c', icon: hollowSqIcon, textStyle: { color: C.mag } },
        { name: 'SAID SP09', itemStyle: noMark, textStyle: { color: C.blue } },
        { name: 'MAID07', itemStyle: noMark, textStyle: { color: C.cyan } },
        { name: 'Regge', itemStyle: noMark, textStyle: { color: '#000' } }
      ] },
    { left: 237, top: 147, orient: 'vertical', itemWidth: 13, itemHeight: 8, selectedMode: false, textStyle: legendText,
      data: [{ name: 'CLAS g10 (this work)', textStyle: { color: C.red } }] },
    { left: 237, top: 262, orient: 'vertical', itemWidth: 13, itemHeight: 8, selectedMode: false, textStyle: legendText,
      data: [{ name: 'CLAS g1c (2007)', icon: sqIcon, textStyle: { color: C.mag } }] }
  ]
};

const chart = echarts.init(document.getElementById('chart'));
chart.setOption(option);
window.onresize = function() { chart.resize(); };
</script>
</body>
</html>
